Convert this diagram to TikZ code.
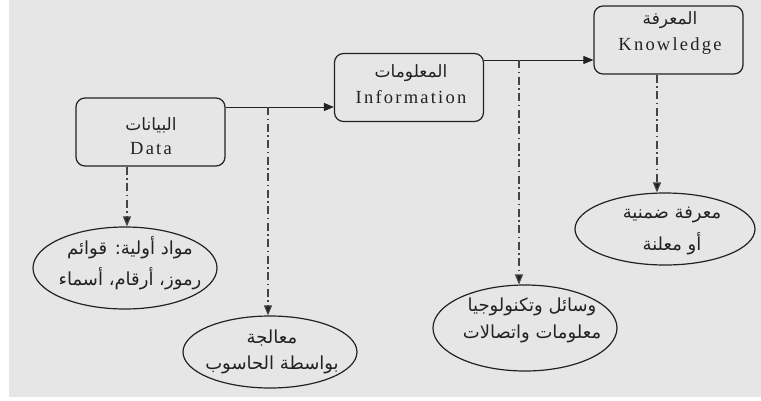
\documentclass[tikz,border=0pt]{standalone}
\usepackage{fontspec}
\usetikzlibrary{shapes.geometric,arrows.meta}
\TeXXeTstate=1
\newfontfamily\arabicfont[Script=Arabic]{DejaVu Sans}
\newfontfamily\latinfont[LetterSpace=12]{Liberation Serif}
\newcommand{\arb}[1]{{\arabicfont\fontsize{17}{19}\selectfont\beginR #1\endR}}
\newcommand{\arl}[1]{{\arabicfont\fontsize{18}{20}\selectfont\beginR #1\endR}}
\newcommand{\lat}[1]{{\latinfont\fontsize{18.5}{20}\selectfont #1}}
\definecolor{bggray}{HTML}{E6E6E6}
\definecolor{ink}{HTML}{222222}
\definecolor{dashink}{HTML}{444444}
\begin{document}
\begin{tikzpicture}[x=1pt,y=-1pt,
  every node/.style={text=ink},
  box/.style={draw=ink, rounded corners=9pt, line width=1.2pt, minimum width=149pt, minimum height=68pt, inner sep=0pt},
  oval/.style={draw=ink, ellipse, line width=1.2pt, inner sep=0pt},
  lbl/.style={align=center, inner sep=0pt},
  flow/.style={draw=ink, line width=1pt, -{Triangle[length=10pt,width=8pt]}},
  ddot/.style={draw=dashink, line width=1.2pt, dash pattern=on 8pt off 3.5pt on 1.5pt off 3.5pt, -{Triangle[length=10pt,width=8pt,fill=ink]}}]
\useasboundingbox (0,0) rectangle (761,400);
\fill[bggray] (9,0) rectangle (761,397);
% boxes
\node[box] (data) at (150.5,132) {};
\node[box] (info) at (409,87.5) {};
\node[box] (know) at (668.5,40) {};
\node[lbl] (tdata) at (151,136) {\arb{البيانات}\\[8pt]\lat{Data}};
\node[lbl] (tinfo) at (411,84) {\arb{المعلومات}\\[8pt]\lat{Information}};
\node[lbl] (tknow) at (670,33) {\arb{المعرفة}\\[8pt]\lat{Knowledge}};
% ellipses
\node[oval, minimum width=184pt, minimum height=82pt] (e1) at (125,268) {};
\node[oval, minimum width=174pt, minimum height=72pt] (e2) at (270,352) {};
\node[oval, minimum width=184pt, minimum height=86pt] (e3) at (525,328) {};
\node[oval, minimum width=180pt, minimum height=72pt] (e4) at (665,229) {};
\node[lbl] (t1) at (130,263) {\arl{مواد أولية: قوائم}\\[8pt]\arl{رموز، أرقام، أسماء}};
\node[lbl] (t2) at (272,352) {\arl{معالجة}\\[8pt]\arl{بواسطة الحاسوب}};
\node[lbl] (t3) at (532,320) {\arl{وسائل وتكنولوجيا}\\[8pt]\arl{معلومات واتصالات}};
\node[lbl] (t4) at (672,231) {\arl{معرفة ضمنية}\\[8pt]\arl{أو معلنة}};
% main flow
\coordinate (a1) at (268,107);
\coordinate (a2) at (519,60);
\draw[flow] (data.east |- a1) -- (info.west |- a1);
\draw[flow] (info.east |- a2) -- (know.west |- a2);
% dash-dot arrows
\coordinate (d1) at (127,0);
\coordinate (k1) at (657,0);
\draw[ddot] (data.south -| d1) -- (d1 |- e1.north);
\draw[ddot] (a1) -- (a1 |- e2.north);
\draw[ddot] (a2) -- (a2 |- e3.north);
\draw[ddot] (know.south -| k1) -- (k1 |- e4.north);
\end{tikzpicture}
\end{document}
